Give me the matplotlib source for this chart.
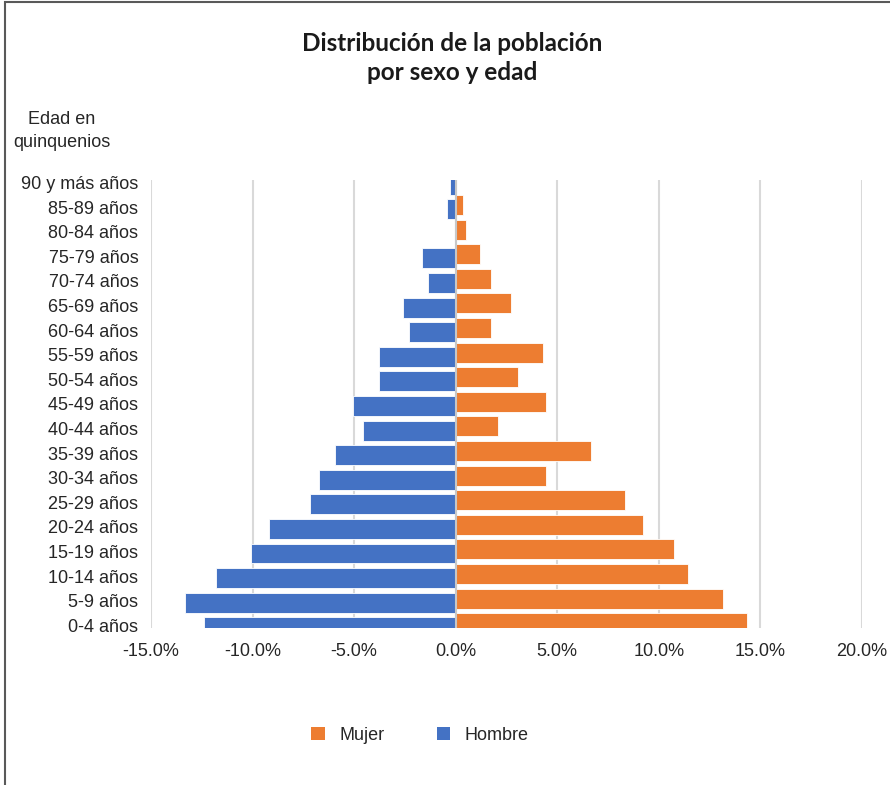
import numpy as np
import matplotlib.pyplot as plt
from matplotlib.patches import Patch, Rectangle

# age groups, bottom to top
grupos = ['0-4 años', '5-9 años', '10-14 años', '15-19 años', '20-24 años',
          '25-29 años', '30-34 años', '35-39 años', '40-44 años', '45-49 años',
          '50-54 años', '55-59 años', '60-64 años', '65-69 años', '70-74 años',
          '75-79 años', '80-84 años', '85-89 años', '90 y más años']

# percent of population
mujer = [14.33, 13.15, 11.44, 10.77, 9.23, 8.35, 4.45, 6.67, 2.07, 4.45,
         3.08, 4.29, 1.72, 2.74, 1.72, 1.21, 0.52, 0.34, 0.0]
hombre = [12.41, 13.33, 11.79, 10.10, 9.18, 7.18, 6.72, 5.95, 4.58, 5.04,
          3.79, 3.79, 2.29, 2.58, 1.35, 1.65, 0.0, 0.43, 0.28]

xticks = [-15, -10, -5, 0, 5, 10, 15, 20]

c_mujer = '#ED7D31'
c_hombre = '#4472C4'
txt = '#262626'

plt.rcParams['font.family'] = ['Liberation Sans', 'DejaVu Sans']

fig = plt.figure(figsize=(8.9, 7.85), dpi=100)
ax = fig.add_axes([151 / 890, 1 - 627.7 / 785, (862 - 151) / 890, (627.7 - 180) / 785])

y = np.arange(len(grupos))
h = 0.81
ax.barh(y + 0.085, mujer, height=h, color=c_mujer, edgecolor='white', linewidth=0.6, zorder=2)
ax.barh(y - 0.085, [-v for v in hombre], height=h, color=c_hombre, edgecolor='white', linewidth=0.6, zorder=2)

ax.set_xlim(-15, 20)
ax.set_ylim(-0.1, 18.1)
ax.set_xticks(xticks)
ax.set_xticklabels([f'{v:.1f}%' for v in xticks], fontsize=13, color=txt)
ax.set_yticks(y)
ax.set_yticklabels(grupos, fontsize=13, color=txt)
ax.tick_params(axis='both', length=0)
ax.tick_params(axis='x', pad=11)
ax.tick_params(axis='y', pad=9)

ax.grid(axis='x', color='#d9d9d9', linewidth=1.5, zorder=0)
ax.set_axisbelow(True)
ax.axvline(0, color='#c8c8c8', linewidth=1.5, zorder=3)
for s in ax.spines.values():
    s.set_visible(False)

fig.text(452 / 890, 1 - 58 / 785, 'Distribución de la población\npor sexo y edad',
         ha='center', va='center', fontsize=17.5, fontweight='bold',
         family=['Lato', 'DejaVu Sans'], color='#1a1a1a', linespacing=1.32)
fig.text(62 / 890, 1 - 131 / 785, 'Edad en\nquinquenios', ha='center', va='center',
         fontsize=13, color=txt, linespacing=1.5)

handles = [Patch(facecolor=c_mujer, label='Mujer'), Patch(facecolor=c_hombre, label='Hombre')]
fig.legend(handles=handles, loc='center', bbox_to_anchor=(420 / 890, 1 - 735 / 785),
           ncol=2, frameon=False, fontsize=13, handlelength=0.75, handleheight=0.75,
           handletextpad=0.8, columnspacing=2.9, labelcolor=txt)

# chart frame
fig.patches.append(Rectangle((5 / 890, -0.1), 1.2, 1.1 - 1.5 / 785, transform=fig.transFigure,
                             fill=False, edgecolor='#595959', linewidth=1.5))

fig.savefig('out.png', dpi=100)
